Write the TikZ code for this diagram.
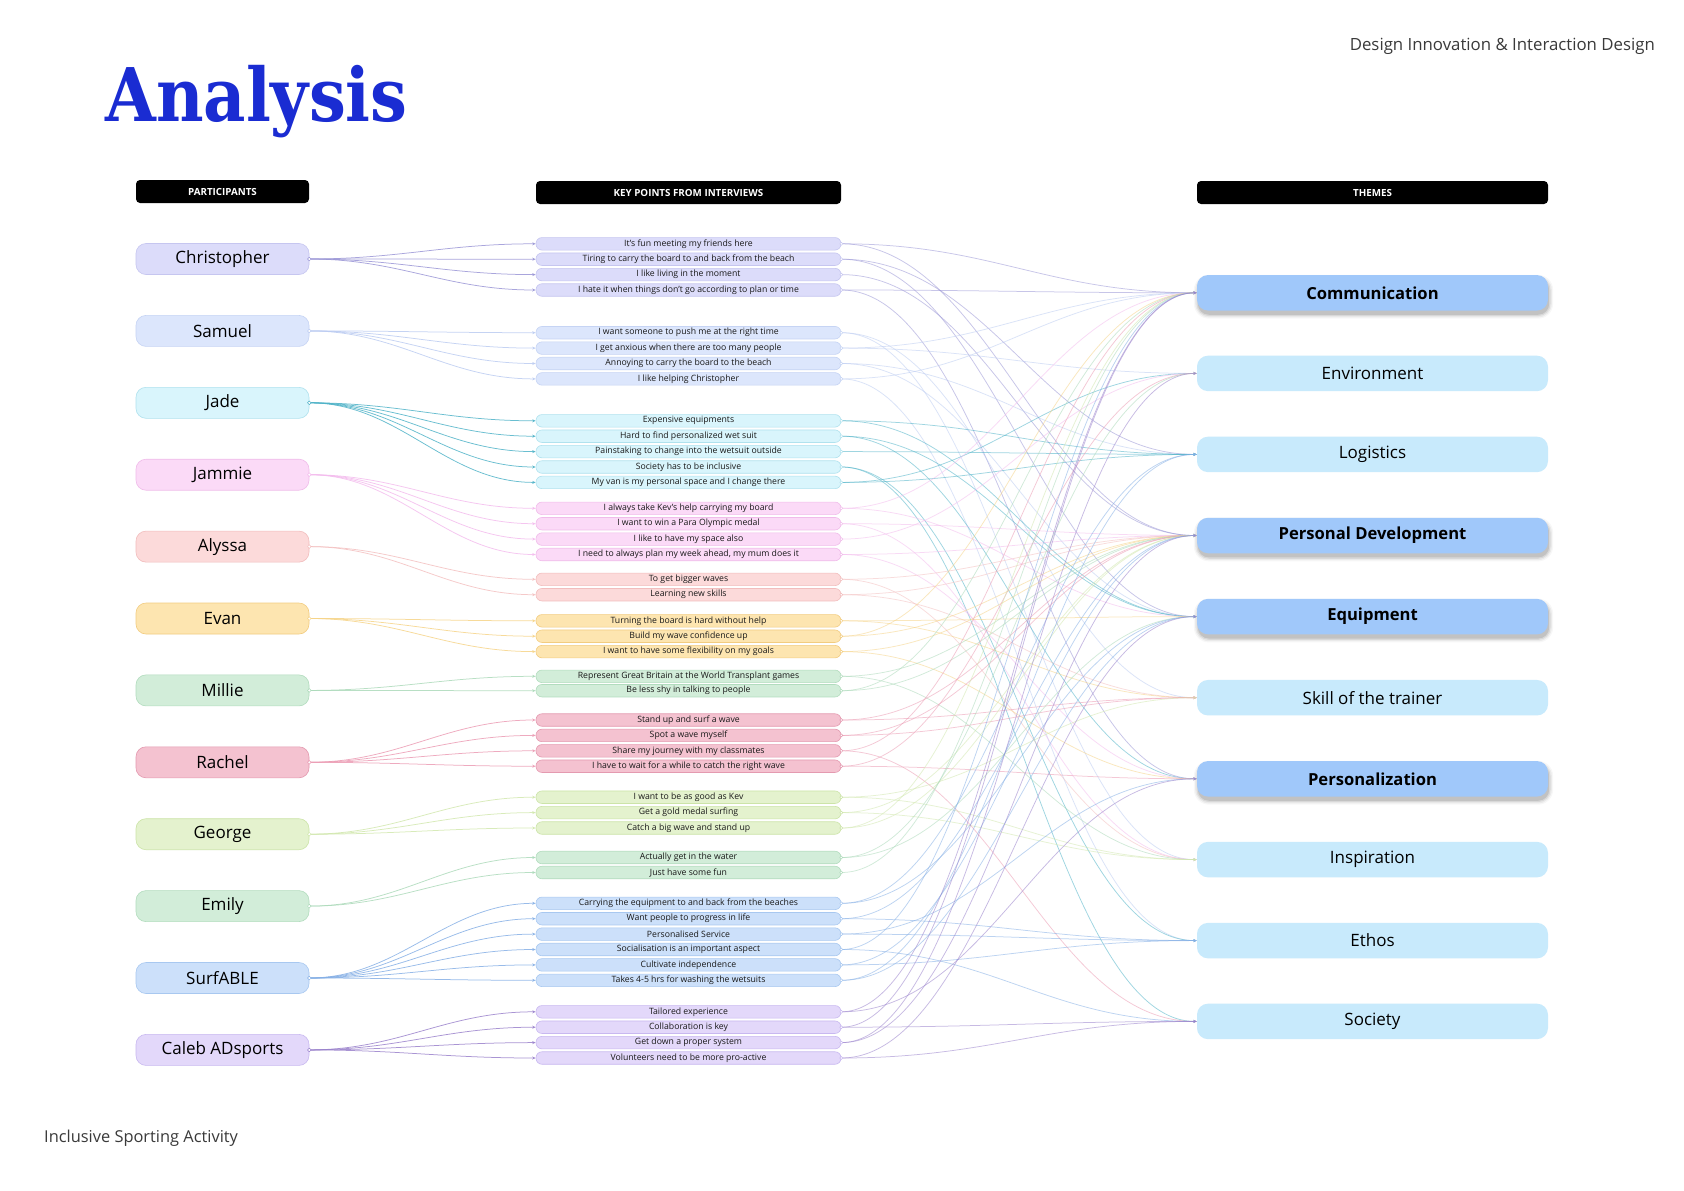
\documentclass[tikz,border=0pt]{standalone}
\usepackage{fontspec}
\setmainfont{Open Sans}
\newfontfamily\titlefont{DejaVu Serif}
\usepackage{graphicx}
\usetikzlibrary{arrows.meta,backgrounds}

% participant colours: fill f?, border b?, line l?
\definecolor{fa}{HTML}{DCDCFA}\definecolor{ba}{HTML}{C6C6F0}\definecolor{la}{HTML}{9A96D6}
\definecolor{fb}{HTML}{DCE6FC}\definecolor{bb}{HTML}{C6D4F4}\definecolor{lb}{HTML}{BCCCF2}
\definecolor{fc}{HTML}{D9F5FC}\definecolor{bc}{HTML}{B0E2EE}\definecolor{lc}{HTML}{4FB3C8}
\definecolor{fd}{HTML}{FBDAF7}\definecolor{bd}{HTML}{F0BCEA}\definecolor{ld}{HTML}{F4BCEE}
\definecolor{fe}{HTML}{FCDADA}\definecolor{be}{HTML}{F2BDBD}\definecolor{le}{HTML}{F4C0C0}
\definecolor{ff}{HTML}{FDE5B0}\definecolor{bf}{HTML}{F2CC80}\definecolor{lf}{HTML}{F6D488}
\definecolor{fg}{HTML}{D2EDD9}\definecolor{bg}{HTML}{B2DCBE}\definecolor{lg}{HTML}{ACDABA}
\definecolor{fh}{HTML}{F4C2D0}\definecolor{bh}{HTML}{E49AB0}\definecolor{lh}{HTML}{EC9CB4}
\definecolor{fi}{HTML}{E4F2CE}\definecolor{bi}{HTML}{CCE4A8}\definecolor{li}{HTML}{D2E8AE}
\definecolor{fj}{HTML}{D2EDD9}\definecolor{bj}{HTML}{B2DCBE}\definecolor{lj}{HTML}{ACDABA}
\definecolor{fk}{HTML}{CCE0FA}\definecolor{bk}{HTML}{A8C8F0}\definecolor{lk}{HTML}{86B0E6}
\definecolor{fl}{HTML}{E3D8FA}\definecolor{bl}{HTML}{C8B8F0}\definecolor{ll}{HTML}{9A82CC}
\definecolor{tdark}{HTML}{A0C8FA}
\definecolor{tlight}{HTML}{C8EAFC}
\definecolor{titleblue}{HTML}{1A2CD2}
\definecolor{greytext}{HTML}{3A3A3A}

\tikzset{
  pbox/.style={rounded corners=10pt, minimum width=173pt, minimum height=31pt, inner sep=0pt,
    font=\fontsize{17}{20}\selectfont, line width=0.6pt},
  kbox/.style={rounded corners=6pt, minimum width=305pt, minimum height=12.5pt, inner sep=0pt,
    font=\fontsize{8.7}{10}\selectfont, line width=0.6pt, text=black!90},
  tbox/.style={rounded corners=11pt, minimum width=351pt, minimum height=35.5pt, inner sep=0pt,
    font=\fontsize{17}{20}\selectfont, fill=tlight},
  thl/.style={tbox, fill=tdark, font=\fontsize{16.6}{20}\selectfont\bfseries},
  hdr/.style={fill=black, rounded corners=4pt, minimum height=23pt, inner sep=0pt, text=white,
    font=\fontsize{9.8}{11}\selectfont\bfseries},
  conn/.style={line width=0.75pt, -{Stealth[length=3.5pt,width=3pt]}},
  dot/.style={fill=white, line width=0.5pt},
  softshadow/.style={fill=black, opacity=#1},
}

\newcommand{\kp}[4]{\node[kbox, fill=f#3, draw=b#3] (k#1) at (688.5,#2) {#4};}
\newcommand{\pk}[2]{\draw[conn, draw=l#1, opacity=.85] (p#1.east) .. controls +(90,0) and +(-90,0) .. (k#2.west);}
\newcommand{\kt}[3]{\draw[conn, draw=l#1, opacity=.55] (k#2.east) .. controls +(150,0) and +(-150,0) .. (t#3.west);}
\newcommand{\thshadow}[1]{%
  \foreach \s/\o in {0/0.10,1.3/0.07,2.6/0.05,3.9/0.03}{%
    \fill[softshadow=\o, rounded corners=11pt+\s pt]
      ([xshift=1pt-\s pt, yshift=-4pt-\s pt]#1.south west) rectangle
      ([xshift=1pt+\s pt, yshift=-4pt+\s pt]#1.north east);}}

\begin{document}
\begin{tikzpicture}[x=1pt,y=-1pt]
\useasboundingbox (0,0) rectangle (1684,1191);
\begin{pgfonlayer}{background}
\fill[white] (0,0) rectangle (1684,1191);
\end{pgfonlayer}

% title and captions
\node[anchor=base west, text=titleblue, inner sep=0pt] (title) at (105,121)
  {\scalebox{0.885}[1]{\fontsize{74}{76}\selectfont\titlefont\bfseries Analysis}};
\node[anchor=base east, text=greytext, inner sep=0pt, font=\fontsize{16.8}{20}\selectfont] (course) at (1655,50.5)
  {Design Innovation \& Interaction Design};
\node[anchor=base west, text=greytext, inner sep=0pt, font=\fontsize{16.4}{20}\selectfont] (footer) at (44,1142)
  {Inclusive Sporting Activity};

% headers
\node[hdr, minimum width=173pt] (h1) at (222.5,191.5) {PARTICIPANTS};
\node[hdr, minimum width=305pt] (h2) at (688.5,192.5) {KEY POINTS FROM INTERVIEWS};
\node[hdr, minimum width=351pt] (h3) at (1372.5,192.5) {THEMES};

% participants
\node[pbox, fill=fa, draw=ba] (pa) at (222.5,259.0) {Christopher};
\node[pbox, fill=fb, draw=bb] (pb) at (222.5,330.9) {Samuel};
\node[pbox, fill=fc, draw=bc] (pc) at (222.5,402.8) {Jade};
\node[pbox, fill=fd, draw=bd] (pd) at (222.5,474.7) {Jammie};
\node[pbox, fill=fe, draw=be] (pe) at (222.5,546.6) {Alyssa};
\node[pbox, fill=ff, draw=bf] (pf) at (222.5,618.5) {Evan};
\node[pbox, fill=fg, draw=bg] (pg) at (222.5,690.4) {Millie};
\node[pbox, fill=fh, draw=bh] (ph) at (222.5,762.3) {Rachel};
\node[pbox, fill=fi, draw=bi] (pi) at (222.5,834.2) {George};
\node[pbox, fill=fj, draw=bj] (pj) at (222.5,906.1) {Emily};
\node[pbox, fill=fk, draw=bk] (pk) at (222.5,978.0) {SurfABLE};
\node[pbox, fill=fl, draw=bl] (pl) at (222.5,1049.9) {Caleb ADsports};

% key points
\kp{1}{243.8}{a}{It’s fun meeting my friends here}
\kp{2}{259.2}{a}{Tiring to carry the board to and back from the beach}
\kp{3}{274.6}{a}{I like living in the moment}
\kp{4}{290.0}{a}{I hate it when things don’t go according to plan or time}
\kp{5}{332.7}{b}{I want someone to push me at the right time}
\kp{6}{348.1}{b}{I get anxious when there are too many people}
\kp{7}{363.5}{b}{Annoying to carry the board to the beach}
\kp{8}{378.9}{b}{I like helping Christopher}
\kp{9}{420.8}{c}{Expensive equipments}
\kp{10}{436.2}{c}{Hard to find personalized wet suit}
\kp{11}{451.6}{c}{Painstaking to change into the wetsuit outside}
\kp{12}{467.0}{c}{Society has to be inclusive}
\kp{13}{482.4}{c}{My van is my personal space and I change there}
\kp{14}{508.3}{d}{I always take Kev’s help carrying my board}
\kp{15}{523.7}{d}{I want to win a Para Olympic medal}
\kp{16}{539.1}{d}{I like to have my space also}
\kp{17}{554.5}{d}{I need to always plan my week ahead, my mum does it}
\kp{18}{579.3}{e}{To get bigger waves}
\kp{19}{594.7}{e}{Learning new skills}
\kp{20}{620.8}{f}{Turning the board is hard without help}
\kp{21}{636.2}{f}{Build my wave confidence up}
\kp{22}{651.6}{f}{I want to have some flexibility on my goals}
\kp{23}{676.3}{g}{Represent Great Britain at the World Transplant games}
\kp{24}{690.7}{g}{Be less shy in talking to people}
\kp{25}{720.0}{h}{Stand up and surf a wave}
\kp{26}{735.4}{h}{Spot a wave myself}
\kp{27}{750.8}{h}{Share my journey with my classmates}
\kp{28}{766.2}{h}{I have to wait for a while to catch the right wave}
\kp{29}{797.2}{i}{I want to be as good as Kev}
\kp{30}{812.6}{i}{Get a gold medal surfing}
\kp{31}{828.0}{i}{Catch a big wave and stand up}
\kp{32}{857.5}{j}{Actually get in the water}
\kp{33}{872.5}{j}{Just have some fun}
\kp{34}{903.3}{k}{Carrying the equipment to and back from the beaches}
\kp{35}{918.7}{k}{Want people to progress in life}
\kp{36}{934.1}{k}{Personalised Service}
\kp{37}{949.5}{k}{Socialisation is an important aspect}
\kp{38}{964.9}{k}{Cultivate independence}
\kp{39}{980.3}{k}{Takes 4-5 hrs for washing the wetsuits}
\kp{40}{1011.8}{l}{Tailored experience}
\kp{41}{1027.2}{l}{Collaboration is key}
\kp{42}{1042.6}{l}{Get down a proper system}
\kp{43}{1058.0}{l}{Volunteers need to be more pro-active}

% themes
\node[thl] (t1) at (1372.5,292.8) {Communication};
\node[tbox] (t2) at (1372.5,373.4) {Environment};
\node[tbox] (t3) at (1372.5,454.4) {Logistics};
\node[thl] (t4) at (1372.5,535.5) {Personal Development};
\node[thl] (t5) at (1372.5,616.6) {Equipment};
\node[tbox] (t6) at (1372.5,697.7) {Skill of the trainer};
\node[thl] (t7) at (1372.5,778.8) {Personalization};
\node[tbox] (t8) at (1372.5,859.6) {Inspiration};
\node[tbox] (t9) at (1372.5,940.6) {Ethos};
\node[tbox] (t10) at (1372.5,1021.4) {Society};

\begin{pgfonlayer}{background}
% soft shadows of the highlighted themes
\thshadow{t1}\thshadow{t4}\thshadow{t5}\thshadow{t7}
% participants to key points
\foreach \k in {1,...,4}{\pk{a}{\k}}
\foreach \k in {5,...,8}{\pk{b}{\k}}
\foreach \k in {9,...,13}{\pk{c}{\k}}
\foreach \k in {14,...,17}{\pk{d}{\k}}
\foreach \k in {18,19}{\pk{e}{\k}}
\foreach \k in {20,21,22}{\pk{f}{\k}}
\foreach \k in {23,24}{\pk{g}{\k}}
\foreach \k in {25,...,28}{\pk{h}{\k}}
\foreach \k in {29,30,31}{\pk{i}{\k}}
\foreach \k in {32,33}{\pk{j}{\k}}
\foreach \k in {34,...,39}{\pk{k}{\k}}
\foreach \k in {40,...,43}{\pk{l}{\k}}
% key points to themes
\kt{a}{1}{1}\kt{a}{1}{4}\kt{a}{2}{3}\kt{a}{2}{5}\kt{a}{3}{4}\kt{a}{4}{7}\kt{a}{4}{1}
\kt{b}{5}{6}\kt{b}{5}{8}\kt{b}{6}{2}\kt{b}{6}{1}\kt{b}{7}{3}\kt{b}{7}{5}\kt{b}{8}{9}\kt{b}{8}{1}
\kt{c}{9}{5}\kt{c}{9}{3}\kt{c}{10}{7}\kt{c}{10}{5}\kt{c}{11}{3}\kt{c}{12}{10}\kt{c}{12}{9}\kt{c}{13}{2}\kt{c}{13}{3}
\kt{d}{14}{5}\kt{d}{14}{1}\kt{d}{15}{8}\kt{d}{15}{4}\kt{d}{16}{2}\kt{d}{17}{4}\kt{d}{17}{7}
\kt{e}{18}{8}\kt{e}{18}{4}\kt{e}{19}{4}\kt{e}{19}{6}
\kt{f}{20}{6}\kt{f}{20}{5}\kt{f}{21}{4}\kt{f}{21}{1}\kt{f}{22}{7}\kt{f}{22}{4}
\kt{g}{23}{8}\kt{g}{23}{4}\kt{g}{24}{1}\kt{g}{24}{4}
\kt{h}{25}{4}\kt{h}{25}{6}\kt{h}{26}{6}\kt{h}{26}{4}\kt{h}{27}{1}\kt{h}{27}{10}\kt{h}{28}{7}\kt{h}{28}{2}
\kt{i}{29}{8}\kt{i}{29}{6}\kt{i}{30}{8}\kt{i}{30}{4}\kt{i}{31}{4}\kt{i}{31}{1}
\kt{j}{32}{2}\kt{j}{32}{5}\kt{j}{33}{1}
\kt{k}{34}{3}\kt{k}{34}{5}\kt{k}{35}{4}\kt{k}{35}{9}\kt{k}{36}{7}\kt{k}{36}{9}\kt{k}{37}{1}\kt{k}{37}{10}\kt{k}{38}{4}\kt{k}{38}{9}\kt{k}{39}{5}\kt{k}{39}{3}
\kt{l}{40}{7}\kt{l}{40}{1}\kt{l}{41}{1}\kt{l}{41}{10}\kt{l}{42}{4}\kt{l}{42}{2}\kt{l}{43}{10}\kt{l}{43}{5}
\end{pgfonlayer}

% start dots
\foreach \p in {a,...,l}{\draw[dot, draw=l\p] (p\p.east) circle (1.8pt);}
\foreach \k/\c in {1/a,2/a,3/a,4/a,5/b,6/b,7/b,8/b,9/c,10/c,11/c,12/c,13/c,14/d,15/d,16/d,17/d,18/e,19/e,20/f,21/f,22/f,23/g,24/g,25/h,26/h,27/h,28/h,29/i,30/i,31/i,32/j,33/j,34/k,35/k,36/k,37/k,38/k,39/k,40/l,41/l,42/l,43/l}
  {\draw[dot, draw=b\c] (k\k.east) circle (1.5pt);}
\end{tikzpicture}
\end{document}
